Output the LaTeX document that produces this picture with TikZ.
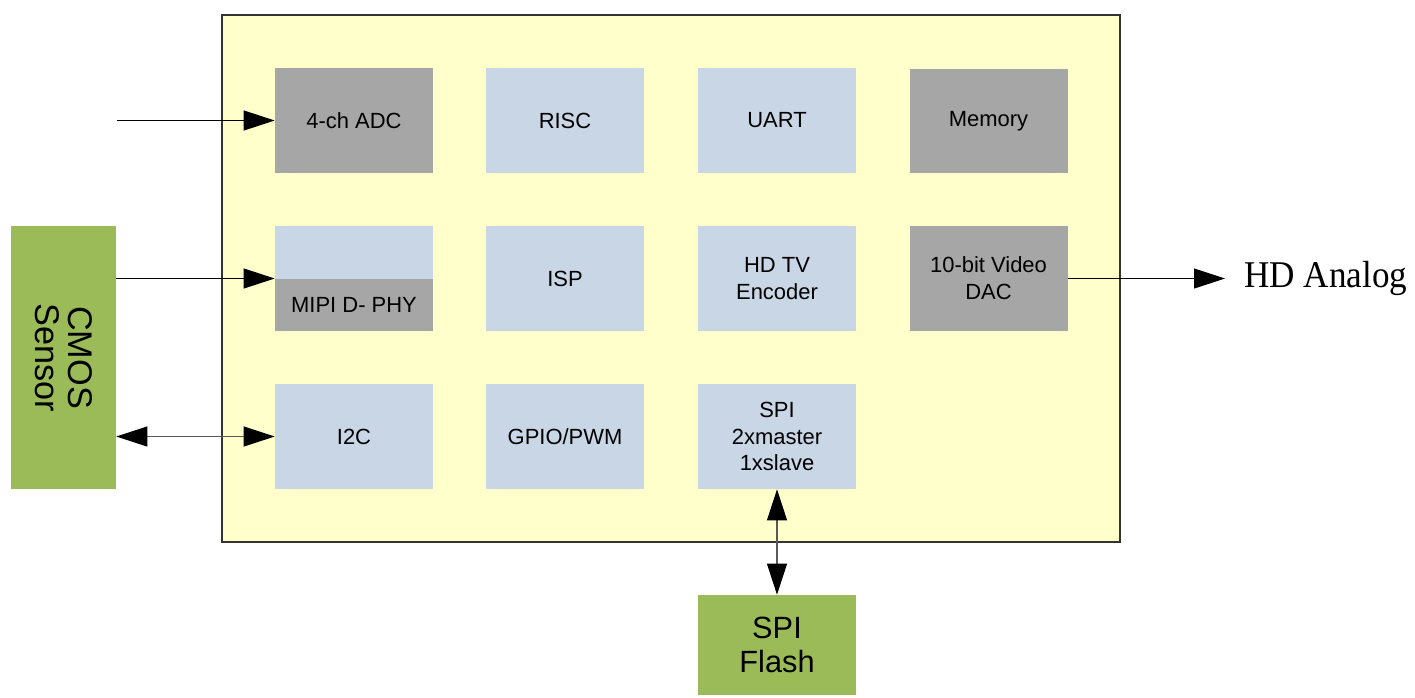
\documentclass[tikz,border=0pt]{standalone}
\usepackage{fontspec}
\setmainfont{Liberation Sans}
\newfontfamily\outfont{Liberation Serif}
\usetikzlibrary{arrows.meta}
\definecolor{chipyellow}{HTML}{FFFFCC}
\definecolor{blkgray}{HTML}{A6A6A6}
\definecolor{blkblue}{HTML}{C9D6E5}
\definecolor{extgreen}{HTML}{9BBB59}
\tikzset{
  chip/.style={draw=black!80, fill=chipyellow, line width=0.6pt},
  blk/.style={fill=blkblue, inner sep=0pt, align=center, minimum width=3.16cm, minimum height=2.1cm, font=\fontsize{12.5}{15.3}\selectfont},
  gblk/.style={blk, fill=blkgray},
  ext/.style={fill=extgreen, inner sep=0pt, align=center, font=\fontsize{17.5}{19.5}\selectfont},
  arr/.style={-{Triangle[length=0.62cm, width=0.4cm]}, line width=0.6pt},
  darr/.style={{Triangle[length=0.62cm, width=0.4cm, color=black]}-{Triangle[length=0.62cm, width=0.4cm, color=black]}, line width=0.6pt, draw=black!65}
}

\begin{document}
\begin{tikzpicture}[x=0.02cm, y=-0.02cm]
  \useasboundingbox (0,0) rectangle (1415,697);
  \draw[chip] (222,15) rectangle (1120,542);

  % row 1
  \node[gblk] (adc) at (354,120.5) {4-ch ADC};
  \node[blk] (risc) at (565,120.5) {RISC};
  \node[blk] (uart) at (777,120.5) {UART};
  \node[gblk] (mem) at (988.5,121) {Memory};

  % row 2
  \node[blk] (mipi) at (354,278.5) {};
  \node[gblk, minimum height=1.04cm] (mipiphy) at (354,305) {MIPI D- PHY};
  \node[blk] (isp) at (565,278.5) {ISP};
  \node[blk] (tvenc) at (777,278.5) {HD TV\\Encoder};
  \node[gblk] (dac) at (988.5,278.5) {10-bit Video\\DAC};

  % row 3
  \node[blk] (i2c) at (354,436.5) {I2C};
  \node[blk] (gpio) at (565,436.5) {GPIO/PWM};
  \node[blk] (spi) at (777,436.5) {SPI\\2xmaster\\1xslave};

  % outside
  \node[ext, minimum width=2.1cm, minimum height=5.26cm] (cmos) at (63.5,357.5) {};
  \node[font=\fontsize{19.5}{19}\selectfont, align=center, rotate=-90] (cmoslbl) at (cmos) {CMOS\\Sensor};
  \node[ext, minimum width=3.16cm, minimum height=2cm] (flash) at (777,645) {SPI\\Flash};
  \node[anchor=west, inner sep=0.38cm, font=\outfont\fontsize{21.5}{24}\selectfont] (hdout) at (1225,278.5) {\scalebox{0.93}[1]{HD Analog}};

  \coordinate (adcin) at (117,120.5);
  \draw[arr] (adcin) -- (adc.west);
  \draw[arr] (cmos.east |- mipi.west) -- (mipi.west);
  \draw[darr] (cmos.east |- i2c.west) -- (i2c.west);
  \draw[darr] (spi.south) -- (flash.north);
  \draw[arr] (dac.east) -- (hdout.west);
\end{tikzpicture}
\end{document}
